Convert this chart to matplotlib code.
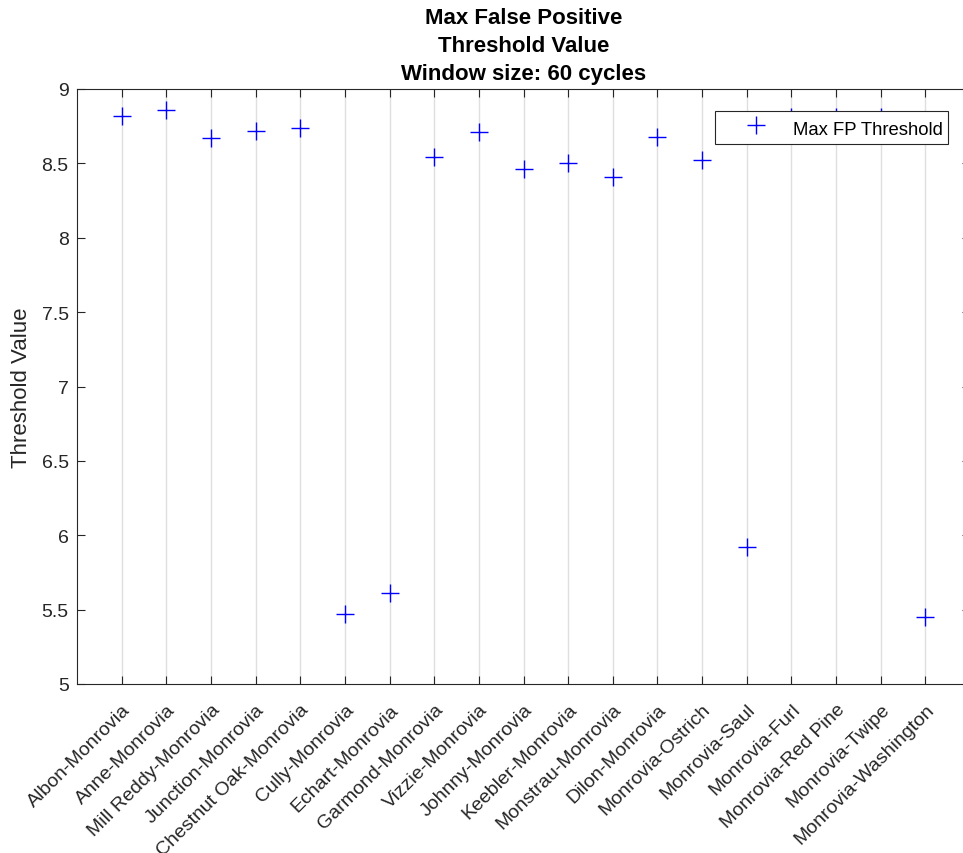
import matplotlib
matplotlib.use("Agg")
import matplotlib.pyplot as plt
from matplotlib.transforms import ScaledTranslation
import numpy as np

categories = ["Albon-Monrovia", "Anne-Monrovia", "Mill Reddy-Monrovia", "Junction-Monrovia",
              "Chestnut Oak-Monrovia", "Cully-Monrovia", "Echart-Monrovia", "Garmond-Monrovia",
              "Vizzie-Monrovia", "Johnny-Monrovia", "Keebler-Monrovia", "Monstrau-Monrovia",
              "Dilon-Monrovia", "Monrovia-Ostrich", "Monrovia-Saul", "Monrovia-Furl",
              "Monrovia-Red Pine", "Monrovia-Twipe", "Monrovia-Washington"]
max_fp_threshold = [8.82, 8.86, 8.67, 8.72, 8.74, 5.47, 5.61, 8.54, 8.71, 8.46,
                    8.50, 8.41, 8.68, 8.52, 5.92, 8.81, 8.81, 8.81, 5.45]
y_ticks = [5, 5.5, 6, 6.5, 7, 7.5, 8, 8.5, 9]
y_tick_labels = ["5", "5.5", "6", "6.5", "7", "7.5", "8", "8.5", "9"]

plt.rcParams['font.family'] = ['Liberation Sans', 'DejaVu Sans']

W, H = 963, 854
fig = plt.figure(figsize=(W / 100, H / 100), dpi=100)
left, right, top, bottom = 77, 970, 90, 685
ax = fig.add_axes([left / W, 1 - bottom / H, (right - left) / W, (bottom - top) / H])

x = np.arange(1, len(categories) + 1)
ax.plot(x, max_fp_threshold, linestyle='none', marker='+', color='#0000FF',
        markersize=12.5, markeredgewidth=1.0, label='Max FP Threshold', zorder=3)

ax.set_xlim(0, len(categories) + 1)
ax.set_ylim(5, 9)
ax.set_xticks(x)
ax.set_xticklabels(categories, rotation=45, ha='right', va='top', rotation_mode='anchor',
                   fontsize=14, color='#262626')
offset = ScaledTranslation(5 / 100, 0, fig.dpi_scale_trans)
for lab in ax.get_xticklabels():
    lab.set_transform(lab.get_transform() + offset)
ax.set_yticks(y_ticks)
ax.set_yticklabels(y_tick_labels, fontsize=14, color='#262626')
ax.tick_params(axis='both', direction='in', length=6, width=0.8, color='#262626',
               top=True, right=True)
ax.tick_params(axis='x', pad=12)
ax.tick_params(axis='y', pad=6)
ax.xaxis.grid(True, color='#DFDFDF', linewidth=1.0)
ax.yaxis.grid(False)
ax.set_axisbelow(True)
for s in ax.spines.values():
    s.set_color('#262626')
    s.set_linewidth(0.8)

ax.set_ylabel('Threshold Value', fontsize=16, color='#262626', labelpad=7)
ax.set_title('Max False Positive\nThreshold Value\nWindow size: 60 cycles',
             fontsize=16, fontweight='bold', linespacing=1.42, pad=7.5)

leg = ax.legend(loc='upper right', bbox_to_anchor=(948 / W, 1 - 112 / H),
                bbox_transform=fig.transFigure, fontsize=13.3, frameon=True,
                fancybox=False, edgecolor='#262626', framealpha=1.0, borderpad=0.3,
                handlelength=3.8, handletextpad=0.1, handleheight=1.45, borderaxespad=0)
leg.get_frame().set_linewidth(0.8)

fig.savefig('out.png', dpi=100)
